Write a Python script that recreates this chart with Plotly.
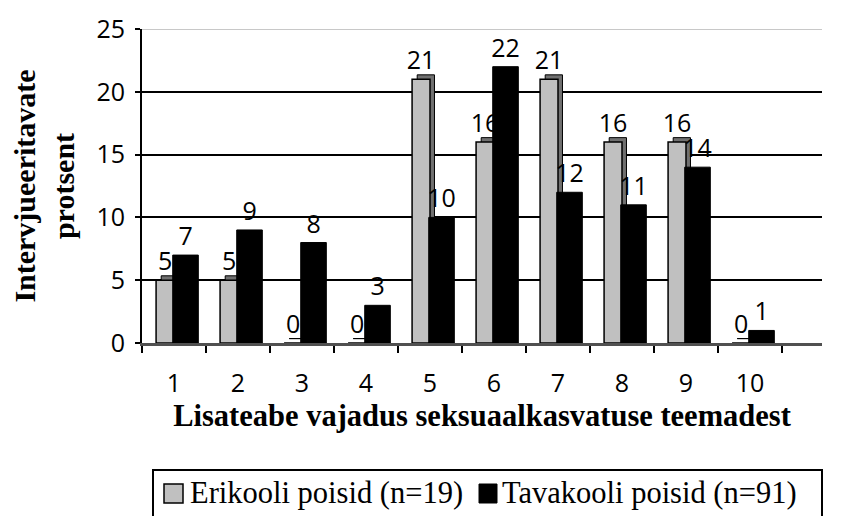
import plotly.graph_objects as go

categories = [1, 2, 3, 4, 5, 6, 7, 8, 9, 10]
erikooli = [5, 5, 0, 0, 21, 16, 21, 16, 16, 0]
tavakooli = [7, 9, 8, 3, 10, 22, 12, 11, 14, 1]
y_ticks = [0, 5, 10, 15, 20, 25]
series_names = ["Erikooli poisid (n=19)", "Tavakooli poisid (n=91)"]
x_title = "Lisateabe vajadus seksuaalkasvatuse teemadest"
y_title = "Intervjueeritavate<br>protsent"

SANS = "Open Sans, Noto Sans, sans-serif"
SERIF = "Liberation Serif, Times New Roman, serif"

# the page body has an 8 px margin, so the figure is drawn 8 px in from the window edge
PAGE = 8
W, H = 842 - PAGE, 516 - PAGE
ML, MR, MT, MB = 142 - PAGE, 20, 29 - PAGE, 173
PW, PH = W - ML - MR, H - MT - MB


def px(xp):
    return (xp - PAGE - ML) / PW


def py(yp):
    return (H - MB - (yp - PAGE)) / PH


fig = go.Figure()

# 3D side/top face of the grey bars
fig.add_trace(go.Bar(
    x=categories, y=erikooli, base=0.35, offset=-0.2, width=0.27,
    marker=dict(color="#707070", line=dict(color="black", width=1)),
    showlegend=False, hoverinfo="skip"))

fig.add_trace(go.Bar(
    x=categories, y=erikooli, name=series_names[0],
    offset=-0.28, width=0.28,
    marker=dict(color="#c0c0c0", line=dict(color="black", width=1.5)),
    text=erikooli, textposition="outside", cliponaxis=False, constraintext="none",
    textfont=dict(family=SANS, size=25, color="black"), showlegend=False))

fig.add_trace(go.Bar(
    x=categories, y=tavakooli, name=series_names[1],
    offset=-0.02, width=0.4,
    marker=dict(color="black", line=dict(color="black", width=1)),
    text=tavakooli, textposition="outside", cliponaxis=False, constraintext="none",
    textfont=dict(family=SANS, size=25, color="black"), showlegend=False))

boundaries = [c - 0.5 for c in categories] + [categories[-1] + 0.5]

# custom legend (box, swatches, labels)
shapes = [
    dict(type="line", xref="paper", x0=0, x1=1, yref="y", y0=y_ticks[-1], y1=y_ticks[-1],
         line=dict(color="#c8c8c8", width=2), layer="above"),
    dict(type="rect", xref="paper", yref="paper", x0=px(153), x1=px(822), y0=py(470), y1=py(540),
         line=dict(color="black", width=2), fillcolor="rgba(0,0,0,0)"),
    dict(type="rect", xref="paper", yref="paper", x0=px(164), x1=px(183), y0=py(484), y1=py(503),
         line=dict(color="black", width=1.5), fillcolor="#c0c0c0"),
    dict(type="rect", xref="paper", yref="paper", x0=px(479), x1=px(497), y0=py(484), y1=py(503),
         line=dict(color="black", width=1), fillcolor="black"),
]
annotations = [
    dict(text=series_names[0], xref="paper", yref="paper", x=px(188), y=py(493),
         xanchor="left", yanchor="middle", showarrow=False,
         font=dict(family=SERIF, size=30.5, color="black")),
    dict(text=series_names[1], xref="paper", yref="paper", x=px(500), y=py(493),
         xanchor="left", yanchor="middle", showarrow=False,
         font=dict(family=SERIF, size=30.5, color="black")),
]

fig.update_layout(
    width=W, height=H,
    margin=dict(l=ML, r=MR, t=MT, b=MB),
    paper_bgcolor="white", plot_bgcolor="white",
    barmode="overlay",
    showlegend=False,
    xaxis=dict(
        range=[0.5, 11.125], tickmode="array", tickvals=categories,
        ticktext=[str(c) for c in categories], ticks="",
        tickfont=dict(family=SANS, size=25, color="black"), ticklabelstandoff=16,
        showline=True, linecolor="#505050", linewidth=3, automargin=False,
        showgrid=False, zeroline=False,
        minor=dict(tickmode="array", tickvals=boundaries, ticks="outside",
                   ticklen=7, tickwidth=2, tickcolor="black", showgrid=False),
        title=dict(text=x_title, standoff=0,
                   font=dict(family=SERIF, size=30.5, color="black", weight="bold"))),
    yaxis=dict(
        range=[0, 25], tickmode="array", tickvals=y_ticks,
        ticks="outside", ticklen=5, tickwidth=2, tickcolor="black",
        tickfont=dict(family=SANS, size=25, color="black"), ticklabelstandoff=5,
        showline=True, linecolor="black", linewidth=2, automargin=False,
        showgrid=True, gridcolor="black", gridwidth=2, zeroline=False,
        title=dict(text=y_title, standoff=25,
                   font=dict(family=SERIF, size=30, color="black", weight="bold"))),
    shapes=shapes,
    annotations=annotations,
)

fig.write_html("out.html")
